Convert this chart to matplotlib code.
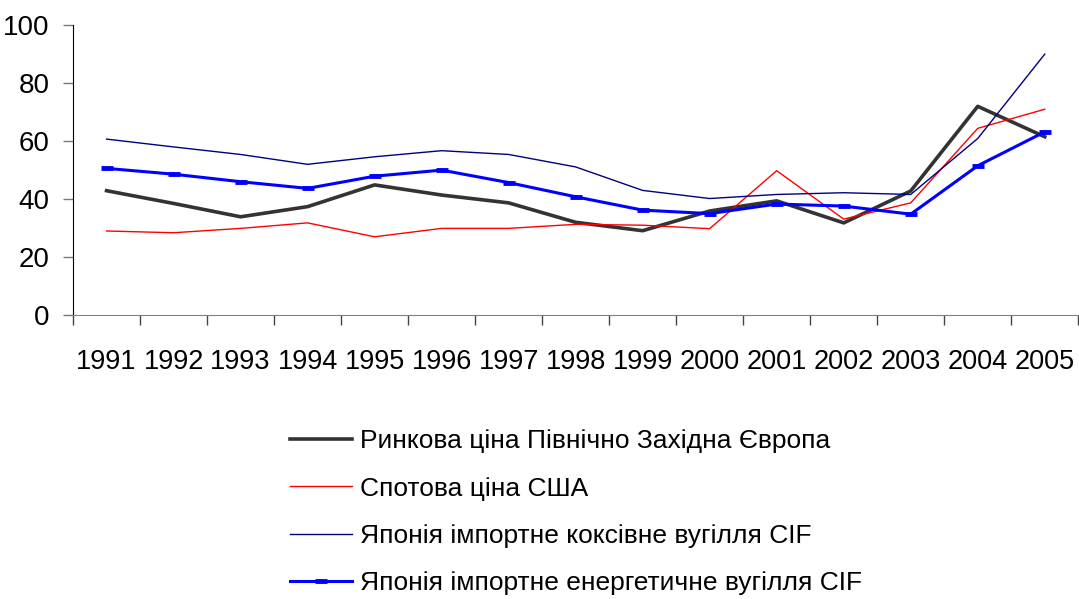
from matplotlib import pyplot as plt
import numpy as np

plt.rcParams['font.family'] = ['Liberation Sans', 'DejaVu Sans']

years = ['1991', '1992', '1993', '1994', '1995', '1996', '1997', '1998',
         '1999', '2000', '2001', '2002', '2003', '2004', '2005']

# Ринкова ціна Північно Західна Європа
nw_europe = [42.9, 38.5, 33.9, 37.4, 44.9, 41.4, 38.7, 32.0, 29.1, 35.9, 39.4, 31.8, 42.8, 72.0, 61.5]
# Спотова ціна США
usa_spot = [29.0, 28.4, 29.9, 31.8, 27.0, 29.9, 29.9, 31.3, 31.0, 29.8, 49.8, 33.1, 38.7, 64.4, 71.0]
# Японія імпортне коксівне вугілля CIF
japan_coking = [60.7, 58.0, 55.4, 52.0, 54.6, 56.7, 55.4, 51.1, 43.0, 40.2, 41.6, 42.2, 41.6, 60.9, 90.0]
# Японія імпортне енергетичне вугілля CIF
japan_steam = [50.6, 48.6, 46.0, 43.7, 47.9, 50.0, 45.7, 40.8, 36.2, 35.0, 38.3, 37.6, 34.8, 51.5, 63.2]

labels = ['Ринкова ціна Північно Західна Європа',
          'Спотова ціна США',
          'Японія імпортне коксівне вугілля CIF',
          'Японія імпортне енергетичне вугілля CIF']

x = np.arange(len(years))

fig = plt.figure(figsize=(10.79, 5.99), dpi=100)
ax = fig.add_axes([0.0677, 0.474, 0.9316, 0.484])

ax.plot(x, nw_europe, color='#333333', lw=2.6, label=labels[0])
ax.plot(x, usa_spot, color='#ff0000', lw=1.0, label=labels[1])
ax.plot(x, japan_coking, color='#000080', lw=1.0, label=labels[2])
ax.plot(x, japan_steam, color='#0000ff', lw=2.2, marker='_', ms=9, mew=3.5,
        label=labels[3])

ax.set_xlim(-0.5, len(years) - 0.5)
ax.set_ylim(0, 100)
ax.set_yticks([0, 20, 40, 60, 80, 100])

ax.set_xticks(x)
ax.set_xticklabels(years)
ax.set_xticks(np.arange(-0.5, len(years), 1), minor=True)
ax.tick_params(axis='x', which='major', length=0, pad=24.5, labelsize=19.5)
ax.tick_params(axis='x', which='minor', length=7, color='#444444', width=1)
ax.tick_params(axis='y', length=7, color='#777777', width=1, pad=10, labelsize=20)

for side in ['top', 'right']:
    ax.spines[side].set_visible(False)
ax.spines['left'].set_color('black')
ax.spines['bottom'].set_color('#808080')

fig.legend(loc='upper left', bbox_to_anchor=(0.269, 0.283), frameon=False,
           fontsize=19, handlelength=2.35, handletextpad=0.3, labelspacing=0.88,
           borderpad=0, borderaxespad=0)

plt.savefig('out.png', dpi=100)
